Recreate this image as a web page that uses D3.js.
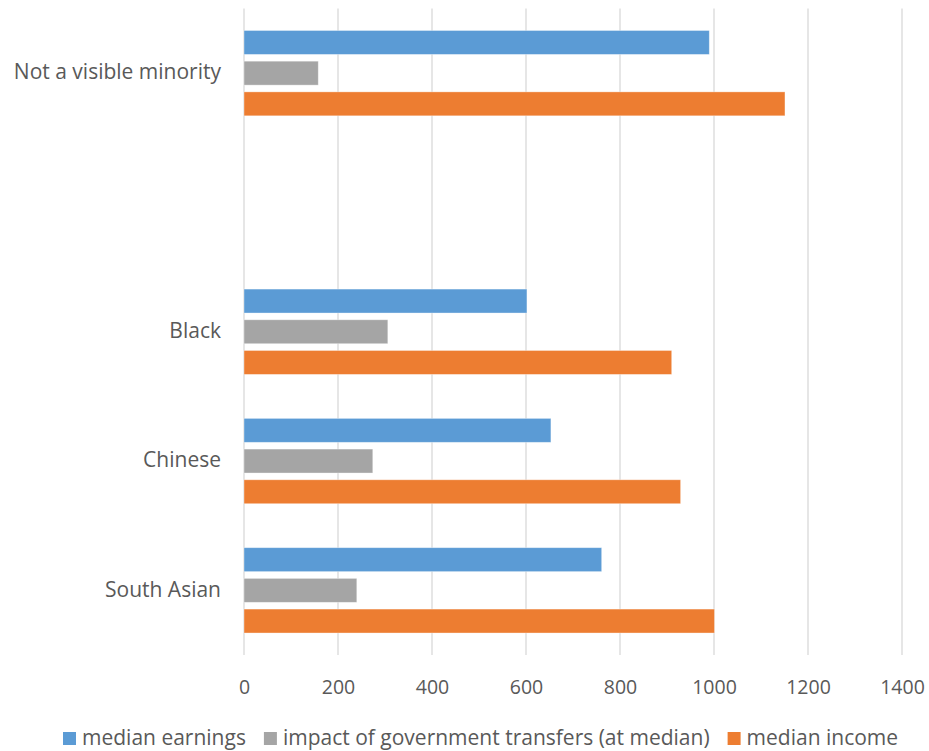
<!DOCTYPE html>
<html>
<head>
<meta charset="utf-8">
<script src="https://cdn.jsdelivr.net/npm/d3@7"></script>
<style>
  html, body { margin: 0; padding: 0; background: #fff; }
  svg { display: block; font-family: "Open Sans", Lato, sans-serif; }
</style>
</head>
<body>
<svg id="chart" width="929" height="751"></svg>
<script>
// Categories, top to bottom (the blank one is an empty slot in the chart)
const categories = ["Not a visible minority", "", "Black", "Chinese", "South Asian"];
const seriesNames = ["median earnings", "impact of government transfers (at median)", "median income"];
const seriesColors = ["#5B9BD5", "#A5A5A5", "#ED7D31"];
const medianEarnings = [990, null, 602, 653, 761];
const transfersImpact = [158, null, 306, 274, 240];
const medianIncome = [1151, null, 910, 929, 1001];
const xTicks = [0, 200, 400, 600, 800, 1000, 1200, 1400];

const seriesValues = [medianEarnings, transfersImpact, medianIncome];
const FONT = "'Open Sans', Lato, sans-serif";

const svg = d3.select("#chart");
const plot = { left: 244, right: 902, top: 8.5, bottom: 655 };

const x = d3.scaleLinear().domain([0, 1400]).range([plot.left, plot.right]);
const y = d3.scaleBand().domain(categories).range([plot.top, plot.bottom])
  .paddingInner(0.34).paddingOuter(0.17);
const ySub = d3.scaleBand().domain(d3.range(seriesNames.length))
  .range([0, y.bandwidth()]).paddingInner(0.22).paddingOuter(0);

// Vertical gridlines
svg.append("g").selectAll("line").data(xTicks).join("line")
  .attr("x1", d => x(d)).attr("x2", d => x(d))
  .attr("y1", plot.top).attr("y2", plot.bottom)
  .attr("stroke", "#D9D9D9").attr("stroke-width", 1.3);

// Bars
const groups = svg.append("g").selectAll("g").data(categories).join("g")
  .attr("transform", c => `translate(0,${y(c)})`);
groups.each(function(c, ci) {
  const rows = seriesValues.map((vals, si) => ({ si, v: vals[ci] })).filter(d => d.v != null);
  d3.select(this).selectAll("rect").data(rows).join("rect")
    .attr("x", x(0))
    .attr("y", d => ySub(d.si))
    .attr("width", d => x(d.v) - x(0))
    .attr("height", ySub.bandwidth())
    .attr("fill", d => seriesColors[d.si])
    .attr("stroke", "#fff").attr("stroke-opacity", 0.45).attr("stroke-width", 0.8);
});

// Category labels
const yAxis = d3.axisLeft(y).tickSize(0).tickPadding(23);
const yg = svg.append("g").attr("transform", `translate(${plot.left},0)`).call(yAxis);
yg.select(".domain").remove();
yg.selectAll("text").attr("font-size", 21).attr("fill", "#595959")
  .attr("font-family", FONT).attr("dy", "0.3em");

// Value axis labels
const xAxis = d3.axisBottom(x).tickValues(xTicks).tickSize(0).tickPadding(0).tickFormat(d3.format("d"));
const xg = svg.append("g").attr("transform", `translate(0,${plot.bottom + 25})`).call(xAxis);
xg.select(".domain").remove();
xg.selectAll("text").attr("font-size", 19.5).attr("fill", "#595959")
  .attr("font-family", FONT);

// Legend
const legend = svg.append("g").attr("transform", "translate(63,745)");
let lx = 0;
seriesNames.forEach((name, i) => {
  const item = legend.append("g").attr("transform", `translate(${lx},0)`);
  item.append("rect").attr("x", 0).attr("y", -13).attr("width", 13).attr("height", 13)
    .attr("fill", seriesColors[i]);
  const t = item.append("text").attr("x", 19).attr("y", 0)
    .attr("font-size", 21).attr("fill", "#595959").text(name);
  lx += 19 + t.node().getComputedTextLength() + 18;
});
</script>
</body>
</html>
